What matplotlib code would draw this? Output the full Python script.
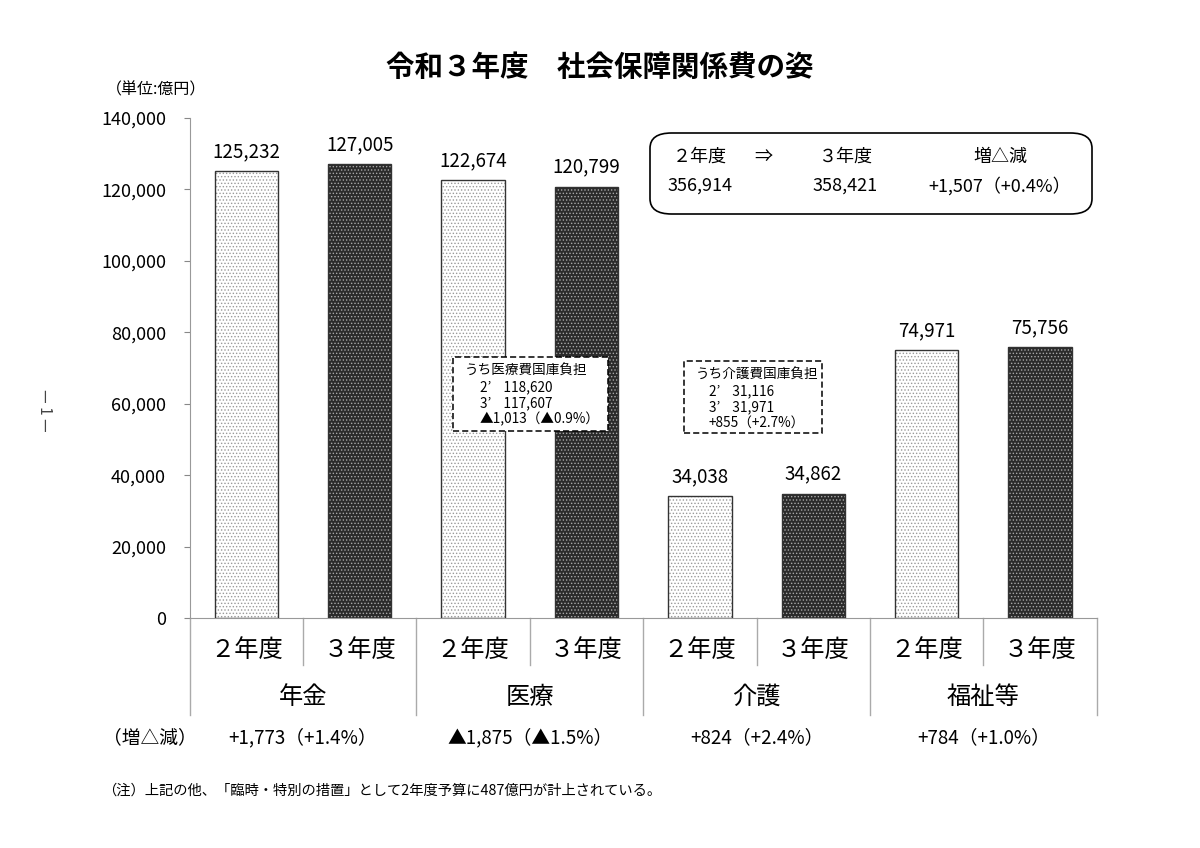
import matplotlib.pyplot as plt
from matplotlib.patches import FancyBboxPatch, Rectangle

plt.rcParams['font.family'] = ['Noto Sans CJK JP', 'DejaVu Sans']
plt.rcParams['hatch.linewidth'] = 0.6

groups = ['年金', '医療', '介護', '福祉等']
years = ['２年度', '３年度']
values_r2 = [125232, 122674, 34038, 74971]
values_r3 = [127005, 120799, 34862, 75756]
changes = ['+1,773（+1.4%）', '▲1,875（▲1.5%）', '+824（+2.4%）', '+784（+1.0%）']
yticks = [0, 20000, 40000, 60000, 80000, 100000, 120000, 140000]

total_head = ['２年度', '⇒', '３年度', '増△減']
total_vals = ['356,914', '', '358,421', '+1,507（+0.4%）']

iryo_note = ['うち医療費国庫負担', '2’    118,620', '3’    117,607', '▲1,013（▲0.9%）']
kaigo_note = ['うち介護費国庫負担', '2’    31,116', '3’    31,971', '+855（+2.7%）']

fig = plt.figure(figsize=(12, 8.48), dpi=100)
ax = fig.add_axes([0.158, 0.2712, 0.756, 0.5896])

values = []
for a, b in zip(values_r2, values_r3):
    values += [a, b]
xs = list(range(len(values)))
w = 0.56

for i, v in enumerate(values):
    if i % 2 == 0:
        face, dots = 'white', '#9a9a9a'
    else:
        face, dots = '#2b2b2b', '#a8a8a8'
    ax.bar(i, v, width=w, color=face, edgecolor=dots, hatch='.....', linewidth=0, zorder=2)
    ax.bar(i, v, width=w, fill=False, edgecolor='#333333', linewidth=1.0, zorder=3)
    ax.text(i, v + 2500, f'{v:,}', ha='center', va='bottom', fontsize=13.5)

ax.set_xlim(-0.5, 7.5)
ax.set_ylim(0, 140000)
ax.set_yticks(yticks)
ax.set_yticklabels([f'{t:,}' for t in yticks], fontsize=13)
ax.tick_params(axis='y', length=4, color='#888888', pad=13)
ax.set_xticks([])
for s in ['top', 'right']:
    ax.spines[s].set_visible(False)
ax.spines['left'].set_color('#999999')
ax.spines['bottom'].set_color('#999999')

tr = ax.get_xaxis_transform()
for b in [0.5, 2.5, 4.5, 6.5]:
    ax.plot([b, b], [0, -0.094], transform=tr, color='#aaaaaa', lw=1, clip_on=False)
for b in [-0.5, 1.5, 3.5, 5.5, 7.5]:
    ax.plot([b, b], [0, -0.194], transform=tr, color='#aaaaaa', lw=1, clip_on=False)

for i in xs:
    ax.text(i, -0.064, years[i % 2], transform=tr, ha='center', va='center', fontsize=17.5)
for g, name in enumerate(groups):
    ax.text(2 * g + 0.5, -0.158, name, transform=tr, ha='center', va='center', fontsize=17.5)
    ax.text(2 * g + 0.5, -0.24, changes[g], transform=tr, ha='center', va='center', fontsize=13.5)
fig.text(0.086, 1 - 738 / 848, '（増△減）', ha='left', va='center', fontsize=13.5)

# title and units
fig.text(0.5, 1 - 68 / 848, '令和３年度　社会保障関係費の姿', ha='center', va='center',
         fontsize=20.5, fontweight='bold')
fig.text(0.088, 1 - 90 / 848, '（単位:億円）', ha='left', va='center', fontsize=11.5)
fig.text(0.0375, 1 - 410 / 848, '— 1 —', ha='center', va='center', fontsize=11,
         rotation=-90, color='#444444')
fig.text(0.085, 1 - 791 / 848, '（注）上記の他、「臨時・特別の措置」として2年度予算に487億円が計上されている。',
         ha='left', va='center', fontsize=10.3)

# total box
box = FancyBboxPatch((650 / 1200, 1 - 214 / 848), 442 / 1200, 81 / 848,
                     boxstyle='round,pad=0,rounding_size=0.018', transform=fig.transFigure,
                     facecolor='white', edgecolor='black', lw=1.2)
fig.add_artist(box)
col_x = [700, 763, 845, 1000]
for cx, h, v in zip(col_x, total_head, total_vals):
    fig.text(cx / 1200, 1 - 157 / 848, h, ha='center', va='center', fontsize=13)
    if v:
        fig.text(cx / 1200, 1 - 186 / 848, v, ha='center', va='center', fontsize=13)


def note_box(x0, y0, x1, y1, lines, indent):
    r = Rectangle((x0 / 1200, 1 - y1 / 848), (x1 - x0) / 1200, (y1 - y0) / 848,
                  transform=fig.transFigure, facecolor='white', edgecolor='black',
                  lw=1.1, linestyle=(0, (4, 2)), zorder=5)
    fig.add_artist(r)
    for k, line in enumerate(lines):
        lx = x0 + 12 if k == 0 else x0 + indent
        fig.text(lx / 1200, 1 - (y0 + 14 + 16 * k) / 848, line, ha='left', va='center',
                 fontsize=9.8, zorder=6)


note_box(453, 357, 608, 431, iryo_note, 27)
note_box(684, 361, 822, 433, kaigo_note, 25)

fig.savefig('out.png', dpi=100, facecolor='white')
